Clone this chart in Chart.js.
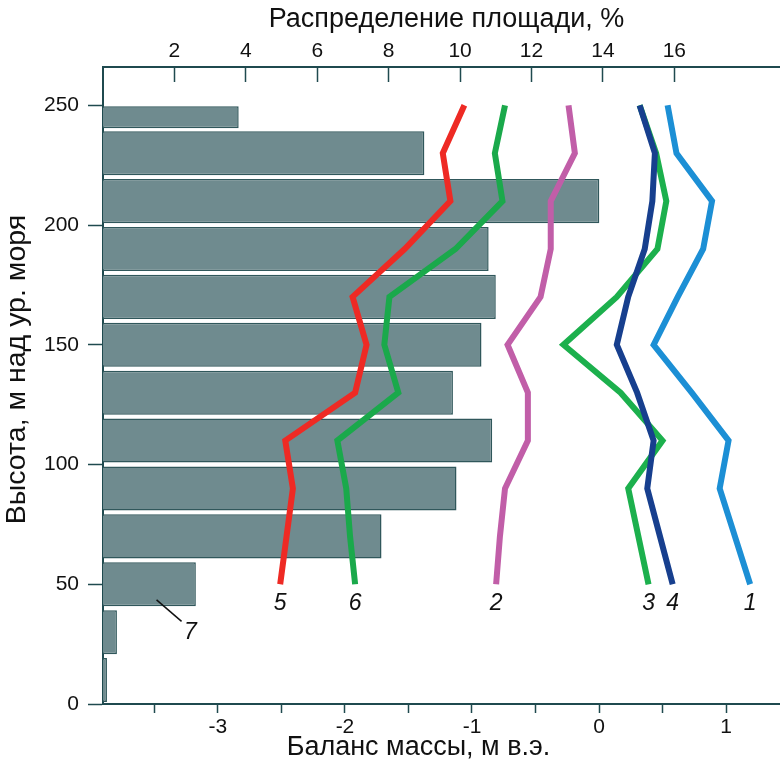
<!DOCTYPE html>
<html>
<head>
<meta charset="utf-8">
<script src="https://cdn.jsdelivr.net/npm/chart.js@4.4.1/dist/chart.umd.min.js"></script>
<style>
  html, body { margin: 0; padding: 0; background: #fff; }
  canvas { display: block; }
</style>
</head>
<body>
<canvas id="chart" width="780" height="763"></canvas>
<script>
// height levels (m a.s.l.) where the balance curves were sampled
const heightLevels = [50, 70, 90, 110, 130, 150, 170, 190, 210, 230, 250];

// mass balance curves, m w.e.
const balance1 = [1.19, 1.07, 0.95, 1.02, 0.73, 0.43, 0.62, 0.82, 0.89, 0.61, 0.54];
const balance2 = [-0.81, -0.78, -0.74, -0.56, -0.56, -0.72, -0.46, -0.38, -0.38, -0.19, -0.24];
const balance3 = [0.39, 0.31, 0.23, 0.50, 0.17, -0.28, 0.14, 0.46, 0.53, 0.45, 0.32];
const balance4 = [0.58, 0.48, 0.38, 0.43, 0.30, 0.14, 0.23, 0.36, 0.42, 0.44, 0.32];
const balance5 = [-2.51, -2.46, -2.41, -2.47, -1.92, -1.83, -1.94, -1.53, -1.17, -1.23, -1.06];
const balance6 = [-1.92, -1.96, -1.99, -2.06, -1.58, -1.69, -1.65, -1.13, -0.76, -0.82, -0.74];

// area distribution by 20 m height bins (bin centres), %
const binCenters = [10, 30, 50, 70, 90, 110, 130, 150, 170, 190, 210, 230];
const areaShare = [0.11, 0.39, 2.6, 7.8, 9.9, 10.9, 9.8, 10.6, 11.0, 10.8, 13.9, 9.0];
// top half-bin 240-250 m
const topBinEdges = [240, 250];
const topBinCenter = [245];
const topBinShare = [3.8];

const heightTicks = [0, 50, 100, 150, 200, 250];
const areaTicks = [2, 4, 6, 8, 10, 12, 14, 16];
const balanceTickMarks = [-3.5, -3, -2.5, -2, -1.5, -1, -0.5, 0, 0.5, 1];
const balanceTickLabels = [-3, -2, -1, 0, 1];

const FONT = '"Liberation Sans", Arial, sans-serif';
const AXIS = '#1f4a4f';
const BAR_FILL = '#6f8b8f';
const BAR_EDGE = '#30575b';

// first in list is drawn on top
const curves = [
  { name: '4', data: balance4, color: '#173f8e' },
  { name: '3', data: balance3, color: '#1cb04d' },
  { name: '1', data: balance1, color: '#1c8fd5' },
  { name: '2', data: balance2, color: '#c15ea8' },
  { name: '5', data: balance5, color: '#ee2a24' },
  { name: '6', data: balance6, color: '#1aa94b' },
];

function toPoints(vals) {
  return vals.map((v, i) => ({ x: v, y: heightLevels[i] }));
}

const lineSets = curves.map(c => ({
  type: 'line',
  label: c.name,
  indexAxis: 'y',
  data: toPoints(c.data),
  xAxisID: 'xb',
  yAxisID: 'y',
  borderColor: c.color,
  borderWidth: 6,
  pointRadius: 0,
  tension: 0,
  borderJoinStyle: 'miter',
  order: 1,
}));

const barStyle = {
  type: 'bar',
  indexAxis: 'y',
  xAxisID: 'xa',
  backgroundColor: BAR_FILL,
  borderColor: BAR_EDGE,
  borderWidth: 1.5,
  grouped: false,
  categoryPercentage: 1,
  barPercentage: 0.92,
  order: 2,
};

const titles = {
  id: 'titles',
  afterDraw(chart) {
    const { ctx, chartArea: a } = chart;
    ctx.save();
    ctx.fillStyle = '#111';
    ctx.font = '27px ' + FONT;
    ctx.textAlign = 'center';
    ctx.textBaseline = 'middle';
    ctx.fillText('Распределение площади, %', (a.left + a.right) / 2 + 5, 20);
    ctx.fillText('Баланс массы, м в.э.', (a.left + a.right) / 2 - 23, 748);
    ctx.font = '28.5px ' + FONT;
    ctx.translate(17, (a.top + a.bottom) / 2 - 16);
    ctx.rotate(-Math.PI / 2);
    ctx.fillText('Высота, м над ур. моря', 0, 0);
    ctx.restore();
  }
};

const curveLabels = {
  id: 'curveLabels',
  afterDatasetsDraw(chart) {
    const { ctx, scales } = chart;
    ctx.save();
    ctx.fillStyle = '#111';
    ctx.font = 'italic 23px ' + FONT;
    ctx.textAlign = 'center';
    ctx.textBaseline = 'middle';
    curves.forEach(c => {
      const x = scales.xb.getPixelForValue(c.data[0]);
      const y = scales.y.getPixelForValue(heightLevels[0]);
      ctx.fillText(c.name, x, y + 19);
    });
    // label 7 for the area bars, with leader line
    const xa = scales.xa, y = scales.y;
    ctx.strokeStyle = '#111';
    ctx.lineWidth = 1.5;
    ctx.beginPath();
    ctx.moveTo(xa.getPixelForValue(1.5), y.getPixelForValue(43.5));
    ctx.lineTo(xa.getPixelForValue(2.2), y.getPixelForValue(34.5));
    ctx.stroke();
    ctx.fillText('7', xa.getPixelForValue(2.45), y.getPixelForValue(30));
    ctx.restore();
  }
};

new Chart(document.getElementById('chart'), {
  type: 'bar',
  data: {
    datasets: [
      ...lineSets,
      Object.assign({ label: 'area', yAxisID: 'y',
        data: binCenters.map((h, i) => ({ y: h, x: areaShare[i] })) }, barStyle),
      Object.assign({ label: 'area top', yAxisID: 'yHalf',
        data: topBinCenter.map((h, i) => ({ y: h, x: topBinShare[i] })) }, barStyle),
    ]
  },
  options: {
    responsive: false,
    animation: false,
    devicePixelRatio: 1,
    layout: { padding: 0 },
    plugins: { legend: { display: false }, tooltip: { enabled: false } },
    scales: {
      y: {
        type: 'linear',
        position: 'left',
        offset: false,
        min: 0,
        max: 266,
        afterBuildTicks: s => { s.ticks = heightTicks.map(v => ({ value: v })); },
        afterFit: s => { s.width = 103; },
        border: { color: AXIS, width: 2 },
        grid: { offset: false, drawOnChartArea: false, tickLength: 15, tickColor: AXIS, tickWidth: 1.5 },
        ticks: { font: { family: FONT, size: 21 }, color: '#111', padding: 9 },
      },
      yHalf: {
        type: 'linear',
        display: false,
        offset: false,
        grid: { offset: false },
        min: 0,
        max: 266,
        afterBuildTicks: s => { s.ticks = topBinEdges.map(v => ({ value: v })); },
      },
      xa: {
        type: 'linear',
        position: 'top',
        offset: false,
        min: 0,
        max: 18.96,
        afterBuildTicks: s => { s.ticks = areaTicks.map(v => ({ value: v })); },
        afterFit: s => { s.height = 67; },
        border: { color: AXIS, width: 2 },
        grid: { offset: false, drawOnChartArea: false, tickLength: -15, tickColor: AXIS, tickWidth: 1.5 },
        ticks: { font: { family: FONT, size: 21 }, color: '#111', padding: 18, maxRotation: 0 },
      },
      xb: {
        type: 'linear',
        position: 'bottom',
        offset: false,
        min: -3.905,
        max: 1.425,
        afterBuildTicks: s => { s.ticks = balanceTickMarks.map(v => ({ value: v })); },
        afterFit: s => { s.height = 59; },
        border: { color: AXIS, width: 2 },
        grid: { offset: false, drawOnChartArea: false, tickLength: 9, tickColor: AXIS, tickWidth: 1.5 },
        ticks: {
          font: { family: FONT, size: 21 }, color: '#111', padding: 2, maxRotation: 0,
          autoSkip: false,
          callback: v => balanceTickLabels.includes(v) ? String(v) : '',
        },
      },
    }
  },
  plugins: [titles, curveLabels],
});
</script>
</body>
</html>
